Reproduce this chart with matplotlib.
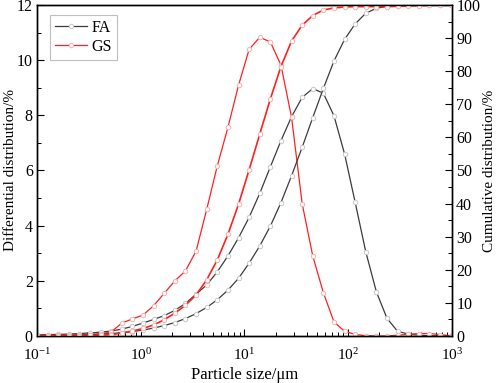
import numpy as np
import matplotlib
matplotlib.use("Agg")
import matplotlib.pyplot as plt
from matplotlib.ticker import LogLocator, MultipleLocator, NullFormatter

plt.rcParams["font.family"] = ["Liberation Serif", "DejaVu Serif"]
plt.rcParams["mathtext.fontset"] = "stix"

# particle size classes (um)
size = [0.1, 0.1265, 0.1601, 0.2026, 0.2564, 0.3245, 0.4106, 0.5196, 0.6575, 0.832,
        1.053, 1.332, 1.686, 2.133, 2.699, 3.416, 4.323, 5.47, 6.92, 8.76,
        11.08, 14.03, 17.75, 22.46, 28.42, 35.96, 45.5, 57.6, 72.9, 92.2,
        116.7, 147.6, 186.8, 236.4, 299.2, 378.6, 479, 606, 767, 971]

# differential distribution (%)
fa_diff = [0.04, 0.05, 0.06, 0.07, 0.09, 0.11, 0.14, 0.18, 0.25, 0.35,
           0.47, 0.6, 0.74, 0.93, 1.18, 1.52, 1.85, 2.33, 2.9, 3.56,
           4.3, 5.17, 6.13, 7.08, 7.95, 8.65, 8.97, 8.8, 7.98, 6.6,
           4.84, 3.05, 1.6, 0.64, 0.17, 0.07, 0.03, 0.01, 0.0, 0.0]
gs_diff = [0.02, 0.02, 0.03, 0.03, 0.04, 0.05, 0.08, 0.15, 0.47, 0.62,
           0.76, 1.1, 1.55, 2.0, 2.36, 3.08, 4.59, 6.17, 7.56, 9.09,
           10.39, 10.83, 10.66, 9.82, 7.93, 4.8, 2.9, 1.57, 0.51, 0.17,
           0.06, 0.01, 0.0, 0.0, 0.03, 0.06, 0.09, 0.09, 0.05, 0.01]

# cumulative distribution (%)
fa_cum = [0.04, 0.09, 0.15, 0.22, 0.31, 0.42, 0.56, 0.74, 0.99, 1.34,
          1.81, 2.41, 3.15, 4.08, 5.26, 6.78, 8.63, 10.96, 13.86, 17.42,
          22.0, 27.2, 33.2, 40.3, 48.4, 57.0, 66.0, 74.8, 83.1, 89.6,
          94.3, 97.5, 99.0, 99.6, 99.8, 99.9, 100, 100, 100, 100]
gs_cum = [0.02, 0.04, 0.07, 0.1, 0.14, 0.19, 0.27, 0.42, 0.89, 1.51,
          2.27, 3.37, 4.92, 6.92, 9.28, 12.4, 17.0, 23.0, 30.7, 39.8,
          50.2, 61.0, 71.6, 81.4, 89.1, 93.9, 96.8, 98.5, 99.1, 99.4,
          99.5, 99.5, 99.5, 99.5, 99.6, 99.7, 99.8, 99.9, 100, 100]

fa_color = "#3c3c3c"
gs_color = "#ff2020"
mk = dict(marker="o", markersize=3.2, markerfacecolor="white", markeredgewidth=0.7)

fig = plt.figure(figsize=(4.98, 3.83), dpi=100)
ax = fig.add_axes([0.0743, 0.1227, 0.8333, 0.8643])
ax2 = ax.twinx()

l1, = ax.plot(size, fa_diff, color=fa_color, lw=0.9, markeredgecolor="#c8c8c8", label="FA", **mk)
l2, = ax.plot(size, gs_diff, color=gs_color, lw=0.9, markeredgecolor="#f6b0b0", label="GS", **mk)
ax2.plot(size, fa_cum, color=fa_color, lw=0.9, markeredgecolor="#c8c8c8", **mk)
ax2.plot(size, gs_cum, color=gs_color, lw=1.2, markeredgecolor="#f6b0b0", **mk)

ax.set_xscale("log")
ax.set_xlim(0.1, 1000)
ax.set_ylim(0, 12)
ax2.set_ylim(0, 100)
ax.xaxis.set_major_locator(LogLocator(base=10, numticks=10))
ax.xaxis.set_minor_locator(LogLocator(base=10, subs=np.arange(2, 10), numticks=20))
ax.xaxis.set_minor_formatter(NullFormatter())
ax.yaxis.set_major_locator(MultipleLocator(2))
ax.yaxis.set_minor_locator(MultipleLocator(1))
ax2.yaxis.set_major_locator(MultipleLocator(10))
ax2.yaxis.set_minor_locator(MultipleLocator(5))

for a in (ax, ax2):
    a.tick_params(which="major", direction="in", length=5, width=0.8, labelsize=11.5, pad=3)
    a.tick_params(which="minor", direction="in", length=3, width=0.7)
    for s in a.spines.values():
        s.set_linewidth(1.0)
ax.tick_params(axis="y", which="both", right=False)
ax.tick_params(axis="x", which="both", top=False, pad=8, labelsize=11)

ax.set_xlabel("Particle size/μm", fontsize=12, labelpad=3)
ax.set_ylabel("Differential distribution/%", fontsize=11, labelpad=0)
ax2.set_ylabel("Cumulative distribution/%", fontsize=11, labelpad=2)

leg = ax.legend(handles=[l1, l2], loc="upper left", bbox_to_anchor=(0.02, 0.985),
                fontsize=11.5, frameon=True, fancybox=False, handlelength=2.0,
                handletextpad=0.3, borderpad=0.3, labelspacing=0.2, borderaxespad=0.3)
leg.get_frame().set_edgecolor("#b0b0b0")
leg.get_frame().set_linewidth(0.8)

fig.savefig("out.png", dpi=100)
